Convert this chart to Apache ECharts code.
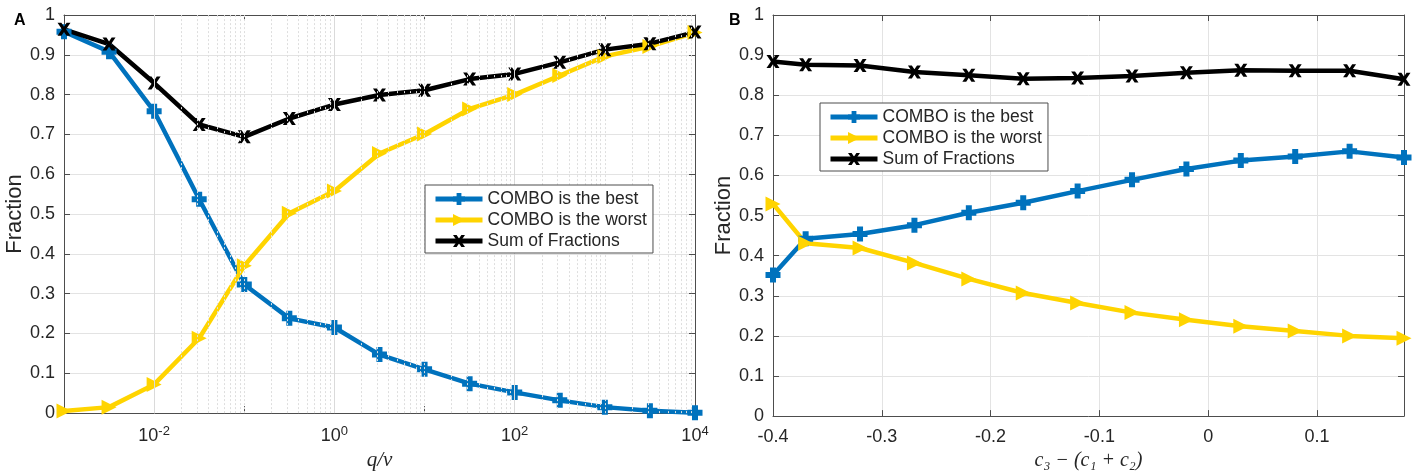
<!DOCTYPE html>
<html>
<head>
<meta charset="utf-8">
<title>COMBO fractions</title>
<script src="https://cdn.jsdelivr.net/npm/echarts@6/dist/echarts.min.js"></script>
<style>
  html, body { margin: 0; padding: 0; background: #fff; }
  #chart-container { width: 1416px; height: 476px; }
</style>
</head>
<body>
<div id="chart-container"></div>
<script>
'use strict';

// panel A, x = q/nu (half decades)
const qNu = [0.001, 0.00316, 0.01, 0.0316, 0.1, 0.316, 1, 3.16, 10, 31.6, 100, 316, 1000, 3160, 10000];
const bestA = [0.958, 0.908, 0.758, 0.537, 0.323, 0.238, 0.215, 0.147, 0.110, 0.074, 0.052, 0.032, 0.015, 0.006, 0.001];
const worstA = [0.005, 0.015, 0.072, 0.188, 0.370, 0.502, 0.558, 0.652, 0.701, 0.764, 0.800, 0.848, 0.896, 0.921, 0.956];
const sumA = [0.964, 0.927, 0.829, 0.725, 0.694, 0.740, 0.775, 0.799, 0.811, 0.839, 0.852, 0.881, 0.913, 0.928, 0.957];

// panel B, x = c3 - (c1 + c2)
const cDiff = [-0.4, -0.37, -0.32, -0.27, -0.22, -0.17, -0.12, -0.07, -0.02, 0.03, 0.08, 0.13, 0.18];
const bestB = [0.352, 0.442, 0.454, 0.476, 0.507, 0.532, 0.561, 0.589, 0.616, 0.637, 0.647, 0.660, 0.645];
const worstB = [0.529, 0.431, 0.419, 0.382, 0.342, 0.307, 0.282, 0.258, 0.240, 0.224, 0.212, 0.200, 0.194];
const sumB = [0.884, 0.876, 0.874, 0.858, 0.850, 0.841, 0.843, 0.848, 0.856, 0.862, 0.861, 0.861, 0.840];

// exponents that get a label on the log axis
const logLabelExps = [-2, 0, 2, 4];
const seriesNames = ['COMBO is the best', 'COMBO is the worst', 'Sum of Fractions'];

const BLUE = '#0072BD';
const YELLOW = '#FFD400';
const AXIS = '#4d4d4d';
const TEXT = '#262626';
const GRID = '#e3e3e3';
const FONT = 'Liberation Sans, Arial, sans-serif';
const SERIF = 'Liberation Serif, DejaVu Serif, serif';

const plusMarker = 'path://M3,0H7V3H10V7H7V10H3V7H0V3H3Z';
const triMarker = 'path://M0,0L10,5L0,10Z';
const xMarker = 'path://M0,0H3L5,3L7,0H10L6.6,5L10,10H7L5,7L3,10H0L3.4,5Z';

const pairs = (xs, ys) => xs.map((x, i) => [x, ys[i]]);

// grid lines for the log axis: solid at labelled decades, dotted elsewhere
const logGridLines = [];
for (let e = -3; e < 4; e++) {
    for (let k = 1; k < 10; k++) {
        const v = k * Math.pow(10, e);
        if (v <= 0.001) continue;
        const major = k === 1 && logLabelExps.indexOf(e) >= 0;
        logGridLines.push({
            xAxis: v,
            lineStyle: major
                ? { color: '#dadada', type: 'solid', width: 1 }
                : { color: '#dedede', type: [2, 2], width: 1 }
        });
    }
}

function lineSeries(name, data, color, marker, xi, yi, size) {
    return {
        name: name,
        type: 'line',
        xAxisIndex: xi,
        yAxisIndex: yi,
        data: data,
        symbol: marker,
        symbolSize: size,
        showSymbol: true,
        symbolKeepAspect: true,
        lineStyle: { color: color, width: 4.5 },
        itemStyle: { color: color, borderWidth: 0 },
        emphasis: { disabled: true },
        z: 3
    };
}

function yAxisFor(gi, onRight, nameGap) {
    return {
        gridIndex: gi,
        type: 'value',
        min: 0,
        max: 1,
        interval: 0.1,
        position: onRight ? 'right' : 'left',
        name: onRight ? '' : 'Fraction',
        nameLocation: 'middle',
        nameGap: nameGap,
        nameTextStyle: { fontFamily: FONT, fontSize: 22, color: TEXT },
        axisLine: { show: true, onZero: false, lineStyle: { color: AXIS, width: 1 } },
        axisTick: { show: true, inside: true, length: 6, lineStyle: { color: AXIS } },
        axisLabel: {
            show: !onRight,
            fontFamily: FONT,
            fontSize: 18,
            color: TEXT,
            margin: 9
        },
        splitLine: { show: !onRight, lineStyle: { color: GRID, width: 1 } }
    };
}

function xTopAxis(gi, base) {
    return Object.assign({}, base, {
        gridIndex: gi,
        position: 'top',
        name: '',
        axisLine: { show: true, onZero: false, lineStyle: { color: AXIS } },
        axisTick: { show: true, inside: true, length: 6, lineStyle: { color: AXIS } },
        axisLabel: { show: false },
        splitLine: { show: false }
    });
}

const legendBase = {
    orient: 'vertical',
    z: 20,
    backgroundColor: '#fff',
    borderColor: '#4d4d4d',
    borderWidth: 1,
    borderRadius: 0,
    padding: [5, 6, 3, 8],
    itemGap: 3,
    itemWidth: 47,
    itemHeight: 15,
    lineStyle: { width: 5 },
    textStyle: { fontFamily: FONT, fontSize: 17.5, color: TEXT },
    selectedMode: false,
    data: seriesNames
};

const logRange = { type: 'log', logBase: 10, min: 0.001, max: 10000 };
const diffRange = { type: 'value', min: -0.4, max: 0.18, interval: 0.1 };

let myChart = null;

function create() {
    if (myChart !== null) {
        return myChart;
    }
    myChart = echarts.init(document.getElementById('chart-container'), null, {
        renderer: 'canvas'
    });

    const option = {
        backgroundColor: '#fff',
        animation: false,
        textStyle: { fontFamily: FONT },
        grid: [
            { left: 64, top: 15, width: 631, height: 410, show: false },
            { left: 773, top: 15, width: 631, height: 410, show: false }
        ],
        graphic: [
            { type: 'text', left: 14, top: 13, style: { text: 'A', font: 'bold 16px ' + FONT, fill: '#000' } },
            { type: 'text', left: 729, top: 13, style: { text: 'B', font: 'bold 16px ' + FONT, fill: '#000' } }
        ],
        legend: [
            Object.assign({ left: 425, top: 185 }, legendBase),
            Object.assign({ left: 820, top: 103 }, legendBase)
        ],
        xAxis: [
            Object.assign({
                gridIndex: 0,
                position: 'bottom',
                name: 'q/ν',
                nameLocation: 'middle',
                nameGap: 31,
                nameTextStyle: { fontFamily: SERIF, fontStyle: 'italic', fontSize: 21, color: TEXT },
                axisLine: { show: true, onZero: false, lineStyle: { color: AXIS } },
                axisTick: { show: true, inside: true, length: 7, lineStyle: { color: AXIS } },
                axisLabel: {
                    color: TEXT,
                    margin: 12,
                    formatter: function (v) {
                        const e = Math.round(Math.log10(v));
                        if (logLabelExps.indexOf(e) < 0) {
                            return '';
                        }
                        return '{b|10}{s|' + e + '}';
                    },
                    rich: {
                        b: { fontFamily: FONT, fontSize: 18, color: TEXT },
                        s: { fontFamily: FONT, fontSize: 13, color: TEXT, verticalAlign: 'bottom', padding: [0, 0, 9, 0] }
                    }
                },
                splitLine: { show: false }
            }, logRange),
            xTopAxis(0, logRange),
            Object.assign({
                gridIndex: 1,
                position: 'bottom',
                name: 'c₃ − (c₁ + c₂)',
                nameLocation: 'middle',
                nameGap: 31,
                nameTextStyle: { fontFamily: SERIF, fontStyle: 'italic', fontSize: 20, color: TEXT },
                axisLine: { show: true, onZero: false, lineStyle: { color: AXIS } },
                axisTick: { show: true, inside: true, length: 6, lineStyle: { color: AXIS } },
                axisLabel: { fontFamily: FONT, fontSize: 18, color: TEXT, margin: 12, showMaxLabel: false },
                splitLine: { show: true, lineStyle: { color: GRID, width: 1 } }
            }, diffRange),
            xTopAxis(1, diffRange)
        ],
        yAxis: [
            yAxisFor(0, false, 33),
            yAxisFor(0, true, 0),
            yAxisFor(1, false, 35),
            yAxisFor(1, true, 0)
        ],
        series: [
            {
                name: 'log grid',
                type: 'line',
                xAxisIndex: 0,
                yAxisIndex: 0,
                data: [],
                silent: true,
                z: 1,
                markLine: {
                    silent: true,
                    symbol: 'none',
                    label: { show: false },
                    animation: false,
                    data: logGridLines
                }
            },
            lineSeries(seriesNames[0], pairs(qNu, bestA), BLUE, plusMarker, 0, 0, 15),
            lineSeries(seriesNames[1], pairs(qNu, worstA), YELLOW, triMarker, 0, 0, 15),
            lineSeries(seriesNames[2], pairs(qNu, sumA), '#000', xMarker, 0, 0, 13),
            lineSeries(seriesNames[0], pairs(cDiff, bestB), BLUE, plusMarker, 2, 2, 15),
            lineSeries(seriesNames[1], pairs(cDiff, worstB), YELLOW, triMarker, 2, 2, 15),
            lineSeries(seriesNames[2], pairs(cDiff, sumB), '#000', xMarker, 2, 2, 13)
        ]
    };
    myChart.setOption(option);

    window.addEventListener('resize', myChart.resize);

    return myChart;
}

create();
</script>
</body>
</html>
